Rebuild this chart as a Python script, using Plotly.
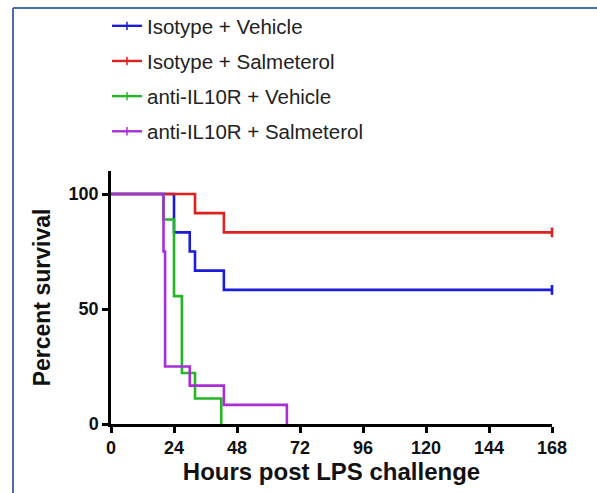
import plotly.graph_objects as go

# Kaplan-Meier step data (hours, percent survival)
series_names = ["Isotype + Vehicle", "Isotype + Salmeterol",
                "anti-IL10R + Vehicle", "anti-IL10R + Salmeterol"]
series_colors = ["#1c1cd8", "#e0201c", "#26b526", "#a82ed8"]

iso_veh_t = [0, 24, 30, 32, 43, 168]
iso_veh_s = [100, 83.3, 75.0, 66.7, 58.3, 58.3]

iso_sal_t = [0, 32, 43, 168]
iso_sal_s = [100, 91.7, 83.3, 83.3]

il10_veh_t = [0, 20, 24, 27, 32, 42]
il10_veh_s = [100, 88.9, 55.6, 22.2, 11.1, 0]

il10_sal_t = [0, 20, 20.6, 30, 43, 67]
il10_sal_s = [100, 75.0, 25.0, 16.7, 8.3, 0]

# censored observations (end of study)
censor_t = [[168], [168], [], []]
censor_s = [[58.3], [83.3], [], []]

x_ticks = [0, 24, 48, 72, 96, 120, 144, 168]
y_ticks = [0, 50, 100]

curves = [(iso_veh_t, iso_veh_s), (iso_sal_t, iso_sal_s),
          (il10_veh_t, il10_veh_s), (il10_sal_t, il10_sal_s)]

fig = go.Figure()
for i, (t, s) in enumerate(curves):
    fig.add_trace(go.Scatter(
        x=t, y=s, mode="lines", line=dict(color=series_colors[i], width=2.6, shape="hv"),
        showlegend=False, cliponaxis=False, hoverinfo="skip"))
    if censor_t[i]:
        fig.add_trace(go.Scatter(
            x=censor_t[i], y=censor_s[i], mode="markers",
            marker=dict(symbol="line-ns", size=7, line=dict(color=series_colors[i], width=2.6)),
            showlegend=False, cliponaxis=False, hoverinfo="skip"))

# legend entries
for i, name in enumerate(series_names):
    fig.add_trace(go.Scatter(
        x=[None], y=[None], mode="lines+markers", name=name,
        legendgroup="g%d" % i,
        line=dict(color=series_colors[i], width=2.4),
        marker=dict(symbol="line-ns", size=6, line=dict(color=series_colors[i], width=1.5))))

L, R, T, B = 111, 45, 171, 69
W, H = 597, 493
pw, ph = W - L - R, H - T - B

def px_x(p):
    return (p - L) / pw

def px_y(p):
    return (H - B - p) / ph

FONT = "Arial, Liberation Sans, sans-serif"

fig.update_layout(
    width=W, height=H,
    margin=dict(l=L, r=R, t=T, b=B, autoexpand=False),
    paper_bgcolor="white", plot_bgcolor="white",
    font=dict(family=FONT, color="#111"),
    showlegend=True,
    legend=dict(x=px_x(107), y=px_y(6), xanchor="left", yanchor="top",
                font=dict(size=20.5, color="#222"), tracegroupgap=5.5,
                bgcolor="rgba(0,0,0,0)", itemwidth=30),
    xaxis=dict(range=[0, 168], tickvals=x_ticks,
               ticktext=["<b>%d</b>" % v for v in x_ticks],
               showgrid=False, zeroline=False, showline=True, linecolor="black", linewidth=2.5,
               ticks="outside", ticklen=6, tickwidth=2.5, tickcolor="black",
               tickfont=dict(size=18, family=FONT, color="#111"),
               title=dict(text="<b>Hours post LPS challenge</b>",
                          font=dict(size=24, family=FONT, color="#111"), standoff=5)),
    yaxis=dict(range=[0, 110], tickvals=y_ticks,
               ticktext=["<b>%d</b>" % v for v in y_ticks],
               showgrid=False, zeroline=False, showline=True, linecolor="black", linewidth=2.5,
               ticks="outside", ticklen=6, tickwidth=2.5, tickcolor="black",
               tickfont=dict(size=18, family=FONT, color="#111"),
               title=dict(text="<b>Percent survival</b>",
                          font=dict(size=23, family=FONT, color="#111"), standoff=12)),
    shapes=[
        dict(type="line", xref="paper", yref="paper", x0=px_x(13), x1=px_x(W + 5),
             y0=px_y(8), y1=px_y(8), line=dict(color="#4a6ea8", width=2)),
        dict(type="line", xref="paper", yref="paper", x0=px_x(13), x1=px_x(13),
             y0=px_y(8), y1=px_y(H + 5), line=dict(color="#4a6ea8", width=2)),
    ],
)

fig.write_html("out.html")
